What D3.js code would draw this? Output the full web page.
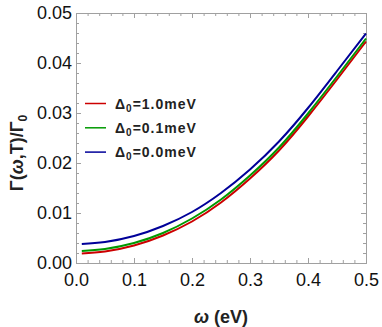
<!DOCTYPE html>
<html>
<head>
<meta charset="utf-8">
<script src="https://cdn.jsdelivr.net/npm/d3@7"></script>
<style>
  body { margin: 0; background: #fff; }
  text { font-family: "Liberation Sans", Arial, sans-serif; }
</style>
</head>
<body>
<div class="module"></div>
<script>
// omega values (eV) and Gamma/Gamma0
const omega = [0.01, 0.05, 0.1, 0.15, 0.2, 0.25, 0.3, 0.35, 0.4, 0.45, 0.5];
const gamma10 = [0.0019, 0.0023, 0.0035, 0.0055, 0.0083, 0.0121, 0.0169, 0.0225, 0.0293, 0.0367, 0.0443];
const gamma01 = [0.0024, 0.0028, 0.0040, 0.0060, 0.0089, 0.0127, 0.0175, 0.0231, 0.0299, 0.0373, 0.0449];
const gamma00 = [0.0038, 0.0042, 0.0054, 0.0074, 0.0102, 0.0140, 0.0187, 0.0243, 0.0310, 0.0384, 0.0459];
const seriesNames = ["1.0", "0.1", "0.0"];
const seriesColors = ["#cc0000", "#009900", "#000099"];
const xTicks = [0, 0.1, 0.2, 0.3, 0.4, 0.5];
const yTicks = [0, 0.01, 0.02, 0.03, 0.04, 0.05];

drawChart(d3.select('.module').node());

function drawChart(rootDOM) {
	const W = 382;
	const H = 327;
	const m = {left: 76, right: 16, top: 13, bottom: 64};

	const x = d3.scaleLinear().domain([0, 0.5]).range([m.left, W - m.right]);
	const y = d3.scaleLinear().domain([0, 0.05]).range([H - m.bottom, m.top]);

	const svg = d3.select(rootDOM)
		.append('svg')
		.attr('width', W)
		.attr('height', H);

	const frame = '#a0a0a0';

	// axes on all four sides, ticks pointing in
	const xMinor = d3.range(0, 0.5001, 0.02);
	const yMinor = d3.range(0, 0.05001, 0.002);

	svg.append('g')
		.attr('transform', `translate(0,${y(0)})`)
		.call(d3.axisBottom(x).tickValues(xTicks).tickSize(-5).tickFormat(d3.format('.1f')).tickPadding(10));
	svg.append('g')
		.attr('transform', `translate(0,${y(0.05)})`)
		.call(d3.axisTop(x).tickValues(xTicks).tickSize(-5).tickFormat(''));
	svg.append('g')
		.attr('transform', `translate(${x(0)},0)`)
		.call(d3.axisLeft(y).tickValues(yTicks).tickSize(-5).tickFormat(d3.format('.2f')).tickPadding(4));
	svg.append('g')
		.attr('transform', `translate(${x(0.5)},0)`)
		.call(d3.axisRight(y).tickValues(yTicks).tickSize(-5).tickFormat(''));

	svg.append('g').attr('transform', `translate(0,${y(0)})`)
		.call(d3.axisBottom(x).tickValues(xMinor).tickSize(-3).tickFormat(''));
	svg.append('g').attr('transform', `translate(0,${y(0.05)})`)
		.call(d3.axisTop(x).tickValues(xMinor).tickSize(-3).tickFormat(''));
	svg.append('g').attr('transform', `translate(${x(0)},0)`)
		.call(d3.axisLeft(y).tickValues(yMinor).tickSize(-3).tickFormat(''));
	svg.append('g').attr('transform', `translate(${x(0.5)},0)`)
		.call(d3.axisRight(y).tickValues(yMinor).tickSize(-3).tickFormat(''));

	svg.selectAll('.domain').attr('stroke', frame).attr('stroke-width', 1);
	svg.selectAll('.tick line').attr('stroke', frame);
	svg.selectAll('.tick text')
		.attr('fill', '#111')
		.style('font-size', '18px');

	// curves
	const line = d3.line()
		.x((d, i) => x(omega[i]))
		.y(d => y(d))
		.curve(d3.curveNatural);

	const series = [gamma10, gamma01, gamma00];
	svg.selectAll('.curve')
		.data(series)
		.enter().append('path')
		.attr('class', 'curve')
		.attr('d', line)
		.attr('fill', 'none')
		.attr('stroke', (d, i) => seriesColors[i])
		.attr('stroke-width', 2);

	// legend
	const leg = svg.selectAll('.leg')
		.data(seriesNames)
		.enter().append('g')
		.attr('class', 'leg')
		.attr('transform', (d, i) => `translate(85,${103.5 + i * 24.3})`);
	leg.append('line')
		.attr('x1', 0).attr('x2', 21)
		.attr('stroke', (d, i) => seriesColors[i])
		.attr('stroke-width', 1.5);
	const lt = leg.append('text')
		.attr('x', 30).attr('y', 5)
		.style('font-size', '14px')
		.style('font-weight', 'bold')
		.style('letter-spacing', '1px')
		.attr('fill', '#222');
	lt.append('tspan').text('Δ');
	lt.append('tspan').attr('dy', 3).style('font-size', '10px').text('0');
	lt.append('tspan').attr('dy', -3).text(d => `=${d}meV`);

	// axis titles
	const xt = svg.append('text')
		.attr('x', 221).attr('y', 323)
		.attr('text-anchor', 'middle')
		.style('font-size', '18px')
		.style('font-weight', 'bold')
		.attr('fill', '#222');
	xt.append('tspan').style('font-style', 'italic').text('ω');
	xt.append('tspan').text(' (eV)');

	const yt = svg.append('text')
		.attr('transform', 'translate(23,153) rotate(-90)')
		.attr('text-anchor', 'middle')
		.style('font-size', '18px')
		.style('font-weight', 'bold')
		.attr('fill', '#222');
	yt.append('tspan').text('Γ(');
	yt.append('tspan').style('font-style', 'italic').text('ω');
	yt.append('tspan').text(',T)/Γ');
	yt.append('tspan').attr('dy', 4).style('font-size', '12px').text('0');
}
</script>
</body>
</html>
